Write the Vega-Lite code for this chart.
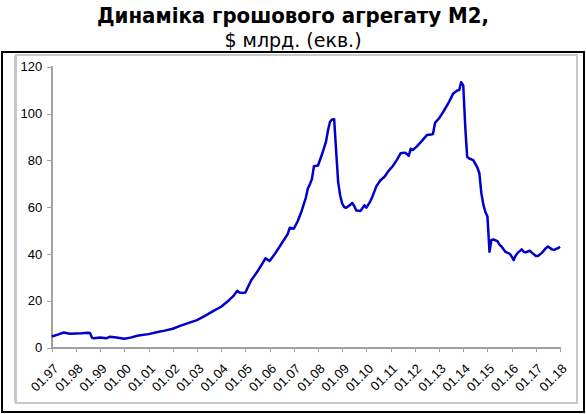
{
  "$schema": "https://vega.github.io/schema/vega-lite/v6.json",
  "description": "Динаміка грошового агрегату М2, $ млрд. (екв.)",
  "width": 582,
  "height": 360,
  "autosize": {"type": "none"},
  "padding": {"top": 52, "left": 2, "right": 2, "bottom": 2},
  "background": "white",
  "title": {
    "text": "Динаміка грошового агрегату М2,",
    "subtitle": "$ млрд. (екв.)",
    "anchor": "middle",
    "font": "DejaVu Sans Condensed",
    "fontSize": 22,
    "fontWeight": "bold",
    "color": "#000000",
    "subtitleFont": "DejaVu Sans",
    "subtitleFontSize": 19,
    "subtitleColor": "#000000",
    "subtitlePadding": 4,
    "offset": 0
  },
  "config": {
    "view": {"stroke": "#000000", "strokeWidth": 2},
    "axis": {
      "labelFont": "Liberation Sans",
      "labelFontSize": 13,
      "labelColor": "#000000",
      "tickColor": "#a0a0a0",
      "domain": false,
      "grid": false,
      "title": null
    }
  },
  "resolve": {"axis": {"x": "independent", "y": "independent"}},
  "data": {
    "values": [
      {"month": "1997-01", "m2": 4.8},
      {"month": "1997-04", "m2": 5.6},
      {"month": "1997-07", "m2": 6.5},
      {"month": "1997-10", "m2": 6.0},
      {"month": "1998-01", "m2": 6.1},
      {"month": "1998-04", "m2": 6.2},
      {"month": "1998-07", "m2": 6.4},
      {"month": "1998-08", "m2": 6.3},
      {"month": "1998-09", "m2": 4.2},
      {"month": "1998-10", "m2": 4.0},
      {"month": "1999-01", "m2": 4.4},
      {"month": "1999-04", "m2": 4.0},
      {"month": "1999-06", "m2": 4.7},
      {"month": "1999-09", "m2": 4.4},
      {"month": "2000-01", "m2": 3.8},
      {"month": "2000-04", "m2": 4.3},
      {"month": "2000-08", "m2": 5.2},
      {"month": "2001-01", "m2": 5.8},
      {"month": "2001-05", "m2": 6.6},
      {"month": "2001-09", "m2": 7.3},
      {"month": "2002-01", "m2": 8.1},
      {"month": "2002-05", "m2": 9.4},
      {"month": "2002-09", "m2": 10.6},
      {"month": "2003-01", "m2": 11.8},
      {"month": "2003-05", "m2": 13.6},
      {"month": "2003-09", "m2": 15.6},
      {"month": "2004-01", "m2": 17.5},
      {"month": "2004-04", "m2": 19.6},
      {"month": "2004-07", "m2": 22.0},
      {"month": "2004-09", "m2": 24.3},
      {"month": "2004-10", "m2": 23.6},
      {"month": "2004-12", "m2": 23.4},
      {"month": "2005-01", "m2": 23.6},
      {"month": "2005-02", "m2": 25.5},
      {"month": "2005-04", "m2": 28.9},
      {"month": "2005-07", "m2": 32.5},
      {"month": "2005-10", "m2": 36.8},
      {"month": "2005-11", "m2": 38.2},
      {"month": "2006-01", "m2": 37.0},
      {"month": "2006-04", "m2": 40.5},
      {"month": "2006-07", "m2": 44.5},
      {"month": "2006-10", "m2": 48.5},
      {"month": "2006-11", "m2": 51.2},
      {"month": "2007-01", "m2": 50.8},
      {"month": "2007-03", "m2": 54.0},
      {"month": "2007-05", "m2": 58.5},
      {"month": "2007-07", "m2": 64.0},
      {"month": "2007-08", "m2": 68.0},
      {"month": "2007-09", "m2": 69.8},
      {"month": "2007-10", "m2": 72.0},
      {"month": "2007-11", "m2": 77.5},
      {"month": "2008-01", "m2": 77.8},
      {"month": "2008-03", "m2": 82.5},
      {"month": "2008-05", "m2": 88.0},
      {"month": "2008-06", "m2": 93.0},
      {"month": "2008-07", "m2": 96.5},
      {"month": "2008-08", "m2": 97.5},
      {"month": "2008-09", "m2": 97.6},
      {"month": "2008-10", "m2": 84.0},
      {"month": "2008-11", "m2": 70.5},
      {"month": "2008-12", "m2": 65.0},
      {"month": "2009-01", "m2": 61.5},
      {"month": "2009-02", "m2": 60.0},
      {"month": "2009-03", "m2": 59.8},
      {"month": "2009-05", "m2": 61.0},
      {"month": "2009-06", "m2": 61.8},
      {"month": "2009-07", "m2": 60.5},
      {"month": "2009-08", "m2": 58.6},
      {"month": "2009-10", "m2": 58.4},
      {"month": "2009-11", "m2": 59.5},
      {"month": "2009-12", "m2": 60.8},
      {"month": "2010-01", "m2": 59.8},
      {"month": "2010-03", "m2": 62.5},
      {"month": "2010-04", "m2": 64.5},
      {"month": "2010-06", "m2": 69.0},
      {"month": "2010-08", "m2": 71.5},
      {"month": "2010-10", "m2": 73.0},
      {"month": "2010-12", "m2": 75.5},
      {"month": "2011-02", "m2": 77.5},
      {"month": "2011-04", "m2": 80.0},
      {"month": "2011-06", "m2": 83.0},
      {"month": "2011-08", "m2": 83.3},
      {"month": "2011-09", "m2": 82.8},
      {"month": "2011-10", "m2": 81.9},
      {"month": "2011-11", "m2": 85.0},
      {"month": "2011-12", "m2": 84.4},
      {"month": "2012-02", "m2": 86.0},
      {"month": "2012-04", "m2": 87.8},
      {"month": "2012-07", "m2": 90.8},
      {"month": "2012-09", "m2": 91.0},
      {"month": "2012-10", "m2": 91.2},
      {"month": "2012-11", "m2": 96.0},
      {"month": "2013-01", "m2": 98.0},
      {"month": "2013-03", "m2": 100.5},
      {"month": "2013-06", "m2": 105.0},
      {"month": "2013-08", "m2": 108.5},
      {"month": "2013-10", "m2": 109.8},
      {"month": "2013-11", "m2": 110.0},
      {"month": "2013-12", "m2": 113.4},
      {"month": "2014-01", "m2": 112.0},
      {"month": "2014-02", "m2": 94.0},
      {"month": "2014-03", "m2": 81.5},
      {"month": "2014-04", "m2": 80.8},
      {"month": "2014-06", "m2": 80.1},
      {"month": "2014-08", "m2": 77.0},
      {"month": "2014-09", "m2": 74.5},
      {"month": "2014-10", "m2": 66.0},
      {"month": "2014-11", "m2": 61.0},
      {"month": "2014-12", "m2": 58.0},
      {"month": "2015-01", "m2": 56.0},
      {"month": "2015-02", "m2": 41.0},
      {"month": "2015-03", "m2": 46.0},
      {"month": "2015-04", "m2": 46.2},
      {"month": "2015-06", "m2": 45.5},
      {"month": "2015-07", "m2": 44.0},
      {"month": "2015-08", "m2": 43.2},
      {"month": "2015-09", "m2": 42.0},
      {"month": "2015-10", "m2": 40.9},
      {"month": "2015-11", "m2": 40.5},
      {"month": "2015-12", "m2": 40.2},
      {"month": "2016-01", "m2": 39.0},
      {"month": "2016-02", "m2": 37.4},
      {"month": "2016-03", "m2": 39.3},
      {"month": "2016-04", "m2": 40.5},
      {"month": "2016-06", "m2": 42.0},
      {"month": "2016-07", "m2": 41.0},
      {"month": "2016-08", "m2": 40.7},
      {"month": "2016-10", "m2": 41.4},
      {"month": "2016-11", "m2": 40.6},
      {"month": "2017-01", "m2": 39.2},
      {"month": "2017-02", "m2": 39.2},
      {"month": "2017-04", "m2": 40.5},
      {"month": "2017-06", "m2": 42.5},
      {"month": "2017-07", "m2": 43.2},
      {"month": "2017-09", "m2": 42.0},
      {"month": "2017-10", "m2": 41.8},
      {"month": "2017-12", "m2": 42.5},
      {"month": "2018-01", "m2": 43.1}
    ],
    "format": {"parse": {"month": "date:'%Y-%m'"}}
  },
  "layer": [
    {
      "mark": {"type": "rect", "fill": null, "stroke": "#c8c8c8", "strokeWidth": 1.5},
      "encoding": {
        "x": {"datum": {"year": 1995, "month": 7, "date": 7}, "type": "temporal", "axis": null},
        "x2": {"datum": {"year": 2018, "month": 9, "date": 13}},
        "y": {"datum": 125.0, "type": "quantitative", "axis": null},
        "y2": {"datum": -23.6}
      }
    },
    {
      "mark": {"type": "rule", "color": "#a0a0a0", "strokeWidth": 1},
      "encoding": {
        "x": {"datum": {"year": 1997, "month": 1, "date": 1}, "type": "temporal", "axis": null},
        "x2": {"datum": {"year": 2018, "month": 1, "date": 1}},
        "y": {"datum": 0, "type": "quantitative", "axis": null}
      }
    },
    {
      "mark": {"type": "rule", "color": "#a0a0a0", "strokeWidth": 1},
      "encoding": {
        "x": {"datum": {"year": 1997, "month": 1, "date": 1}, "type": "temporal", "axis": null},
        "y": {"datum": 0, "type": "quantitative", "axis": null},
        "y2": {"datum": 120}
      }
    },
    {
      "mark": {"type": "line", "color": "#0000cc", "strokeWidth": 2.5, "strokeJoin": "round"},
      "encoding": {
        "x": {
          "field": "month",
          "type": "temporal",
          "title": null,
          "scale": {
            "domain": [
              {"year": 1994, "month": 12, "date": 12},
              {"year": 2018, "month": 12, "date": 28}
            ],
            "nice": false
          },
          "axis": {
            "values": [
              {"year": 1997, "month": 1, "date": 1},
              {"year": 1998, "month": 1, "date": 1},
              {"year": 1999, "month": 1, "date": 1},
              {"year": 2000, "month": 1, "date": 1},
              {"year": 2001, "month": 1, "date": 1},
              {"year": 2002, "month": 1, "date": 1},
              {"year": 2003, "month": 1, "date": 1},
              {"year": 2004, "month": 1, "date": 1},
              {"year": 2005, "month": 1, "date": 1},
              {"year": 2006, "month": 1, "date": 1},
              {"year": 2007, "month": 1, "date": 1},
              {"year": 2008, "month": 1, "date": 1},
              {"year": 2009, "month": 1, "date": 1},
              {"year": 2010, "month": 1, "date": 1},
              {"year": 2011, "month": 1, "date": 1},
              {"year": 2012, "month": 1, "date": 1},
              {"year": 2013, "month": 1, "date": 1},
              {"year": 2014, "month": 1, "date": 1},
              {"year": 2015, "month": 1, "date": 1},
              {"year": 2016, "month": 1, "date": 1},
              {"year": 2017, "month": 1, "date": 1},
              {"year": 2018, "month": 1, "date": 1}
            ],
            "format": "%m.%y",
            "labelAngle": -45,
            "labelPadding": 10,
            "labelFontSize": 13,
            "tickSize": 4,
            "offset": -64.3,
            "labelOverlap": false
          }
        },
        "y": {
          "field": "m2",
          "type": "quantitative",
          "title": null,
          "scale": {"domain": [-27.46, 126.28], "nice": false, "zero": false},
          "axis": {
            "values": [0, 20, 40, 60, 80, 100, 120],
            "tickSize": 5,
            "labelPadding": 5,
            "labelFontSize": 13,
            "offset": -49.7
          }
        }
      }
    }
  ]
}
